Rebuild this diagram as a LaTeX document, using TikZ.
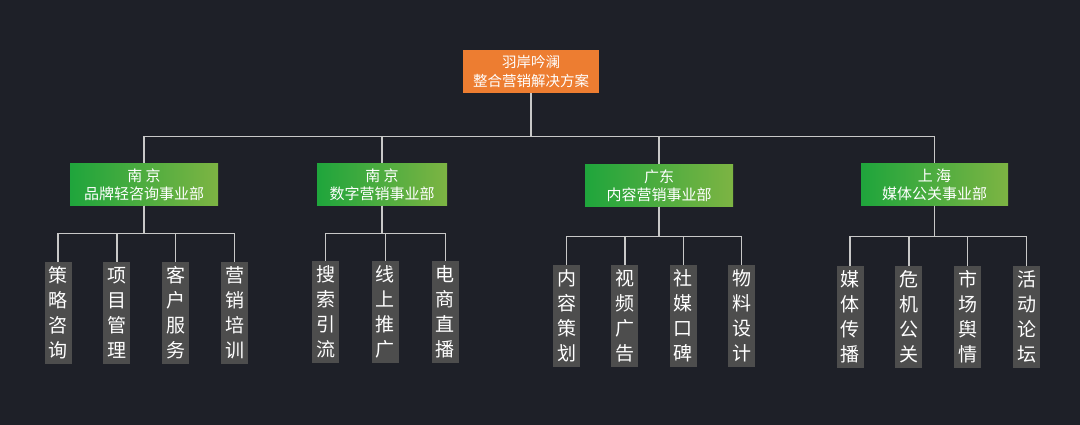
\documentclass[tikz,border=0pt]{standalone}
\usepackage{fontspec}
\setmainfont{Noto Sans CJK SC}
\usepackage{tikz}
\usetikzlibrary{positioning}

\definecolor{bgdark}{HTML}{1E2028}
\definecolor{rootorange}{HTML}{ED7D31}
\definecolor{deptleft}{HTML}{1FA53C}
\definecolor{deptright}{HTML}{7DB443}
\definecolor{leafgray}{HTML}{4D4D4D}
\definecolor{linkgray}{HTML}{C8C8C8}

\begin{document}
\begin{tikzpicture}[x=1pt, y=1pt, node distance=31.5pt,
    rootbox/.style={fill=rootorange, text=white, minimum width=136pt, minimum height=43pt, align=center, inner sep=2pt, font=\fontsize{14.5}{19}\selectfont},
    dept/.style={left color=deptleft, right color=deptright, text=white, minimum width=148pt, minimum height=42pt, align=center, inner sep=2pt, font=\fontsize{15}{18}\selectfont},
    leaf/.style={fill=leafgray, text=white, minimum width=27pt, minimum height=102pt, inner sep=0pt, align=center, font=\fontsize{19}{25}\selectfont},
    link/.style={draw=linkgray, line width=1.3pt}]

    % Background
    \useasboundingbox[fill=bgdark] (0,0) rectangle (1080,-425);

    % Top
    \node[rootbox] (root) at (531,-71.5) {羽岸吟澜\\整合营销解决方案};

    % Departments
    \node[dept, below=70pt of root, xshift=-387pt] (d1) {南 京\\品牌轻咨询事业部};
    \node[dept, below=70pt of root, xshift=-149pt, minimum width=130pt] (d2) {南 京\\数字营销事业部};
    \node[dept, below=71pt of root, xshift=128pt] (d3) {广东\\内容营销事业部};
    \node[dept, below=70pt of root, xshift=403.5pt, minimum width=147pt] (d4) {上 海\\媒体公关事业部};

    % Leaves
    \node[leaf, below=56pt of d1, xshift=-86pt] (l11) {策\\略\\咨\\询};
    \node[leaf, right=of l11] (l12) {项\\目\\管\\理};
    \node[leaf, right=of l12] (l13) {客\\户\\服\\务};
    \node[leaf, right=of l13] (l14) {营\\销\\培\\训};

    \node[leaf, below=55pt of d2, xshift=-56.5pt] (l21) {搜\\索\\引\\流};
    \node[leaf, right=32.5pt of l21] (l22) {线\\上\\推\\广};
    \node[leaf, right=32.5pt of l22] (l23) {电\\商\\直\\播};

    \node[leaf, below=58pt of d3, xshift=-92.5pt] (l31) {内\\容\\策\\划};
    \node[leaf, right=31pt of l31] (l32) {视\\频\\广\\告};
    \node[leaf, right=31pt of l32] (l33) {社\\媒\\口\\碑};
    \node[leaf, right=31pt of l33] (l34) {物\\料\\设\\计};

    \node[leaf, below=60pt of d4, xshift=-84.5pt] (l41) {媒\\体\\传\\播};
    \node[leaf, right=of l41] (l42) {危\\机\\公\\关};
    \node[leaf, right=of l42] (l43) {市\\场\\舆\\情};
    \node[leaf, right=of l43] (l44) {活\\动\\论\\坛};

    % Connections
    \foreach \d in {d1,d2,d3,d4}
        \draw[link] (root.south) -- ++(0,-43) -| (\d.north);

    \foreach \l in {l11,l12,l13,l14}
        \draw[link] (d1.south) -- ++(0,-28) -| (\l.north);
    \foreach \l in {l21,l22,l23}
        \draw[link] (d2.south) -- ++(0,-28) -| (\l.north);
    \foreach \l in {l31,l32,l33,l34}
        \draw[link] (d3.south) -- ++(0,-30) -| (\l.north);
    \foreach \l in {l41,l42,l43,l44}
        \draw[link] (d4.south) -- ++(0,-31) -| (\l.north);

\end{tikzpicture}
\end{document}
